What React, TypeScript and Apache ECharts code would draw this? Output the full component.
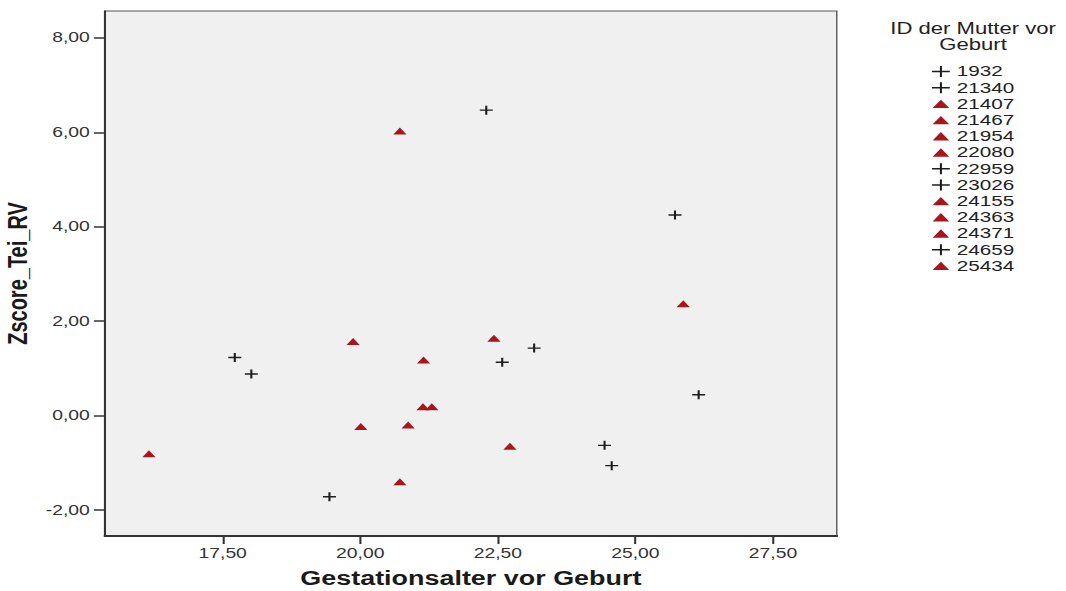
import React, { useEffect, useRef } from "react";
import * as echarts from "echarts";

// Mother IDs and the marker used for each in the legend/plot
const motherIds = ["1932", "21340", "21407", "21467", "21954", "22080", "22959", "23026", "24155", "24363", "24371", "24659", "25434"];
const markerKinds = ["cross", "cross", "triangle", "triangle", "triangle", "triangle", "cross", "cross", "triangle", "triangle", "triangle", "cross", "triangle"];

// One entry per measurement
const pointIds = [
  "1932", "1932", "21340", "21340", "22959", "22959", "23026", "23026", "24659", "24659",
  "21407", "21407", "21467", "21467", "21954", "21954", "22080", "22080", "24155", "24363", "24371", "25434",
];
const gestAge = [
  17.72, 18.02, 22.29, 25.72, 22.58, 23.16, 24.44, 24.57, 19.44, 26.15,
  16.16, 20.01, 19.87, 21.15, 20.72, 22.43, 21.14, 21.3, 20.87, 22.72, 20.72, 25.87,
];
const zscoreTei = [
  1.23, 0.88, 6.47, 4.25, 1.13, 1.43, -0.63, -1.06, -1.72, 0.44,
  -0.81, -0.23, 1.57, 1.18, 6.03, 1.64, 0.19, 0.19, -0.2, -0.65, -1.4, 2.37,
];

const xTicks = [17.5, 20, 22.5, 25, 27.5];
const yTicks = [-2, 0, 2, 4, 6, 8];

const FONT = '"Liberation Sans", Arial, sans-serif';
const CROSS_COLOR = "#1c1c1c";
const TRI_COLOR = "#a8161c";
const CROSS_PATH = "path://M0,4.2H10V5.8H0Z M4.2,0H5.8V10H4.2Z";
const CROSS_LEGEND = "path://M0,5.2H14V6.8H0Z M6.2,0H7.8V12H6.2Z";
const TRI_LEGEND = "path://M0.75,9.25L6.5,1.25L12.25,9.25Z M0.5,0Z M12.5,10.5Z";

// the drawing is stretched horizontally
const STRETCH = 1066 / 772;

const fmt = (v: number) => v.toFixed(2).replace(".", ",");

export default function App() {
  const ref = useRef<HTMLDivElement>(null);

  useEffect(() => {
    if (!ref.current) return;
    const chart = echarts.init(ref.current, undefined, { renderer: "svg" });

    const series = motherIds.map((id, k) => {
      const isCross = markerKinds[k] === "cross";
      const data: number[][] = [];
      pointIds.forEach((p, i) => {
        if (p === id) data.push([gestAge[i], zscoreTei[i]]);
      });
      return {
        name: id,
        type: "scatter",
        data,
        symbol: isCross ? CROSS_PATH : "triangle",
        symbolSize: isCross ? [9.4, 9] : [9.6, 7],
        symbolKeepAspect: false,
        itemStyle: { color: isCross ? CROSS_COLOR : TRI_COLOR, opacity: 1 },
        emphasis: { disabled: true },
      };
    });

    chart.setOption({
      animation: false,
      backgroundColor: "#ffffff",
      grid: {
        left: 76,
        top: 11,
        width: 530,
        height: 525,
        containLabel: false,
        outerBoundsMode: "none",
        show: true,
        backgroundColor: "#f0f0f0",
        borderColor: "#555",
        borderWidth: 1,
      },
      xAxis: {
        type: "value",
        min: 15.36,
        max: 28.66,
        name: "Gestationsalter vor Geburt",
        nameLocation: "middle",
        nameGap: 34,
        nameTextStyle: { fontFamily: FONT, fontSize: 19.5, lineHeight: 16, fontWeight: "bold", color: "#1a1a1a" },
        splitLine: { show: false },
        axisLine: { onZero: false, lineStyle: { color: "#333", width: 2 } },
        axisTick: { customValues: xTicks, length: 8, lineStyle: { color: "#333", width: 1.5 } },
        axisLabel: {
          customValues: xTicks,
          formatter: fmt,
          margin: 10,
          fontFamily: FONT,
          fontSize: 14,
          color: "#333",
        },
      },
      yAxis: {
        type: "value",
        min: -2.55,
        max: 8.57,
        name: "Zscore_Tei_RV",
        nameLocation: "middle",
        nameGap: 47,
        nameTextStyle: { fontFamily: FONT, fontSize: 20, fontWeight: "bold", color: "#1a1a1a" },
        splitLine: { show: false },
        axisLine: { onZero: false, lineStyle: { color: "#333", width: 1.5 } },
        axisTick: { customValues: yTicks, length: 8, lineStyle: { color: "#333", width: 1.5 } },
        axisLabel: {
          customValues: yTicks,
          formatter: fmt,
          margin: 11,
          fontFamily: FONT,
          fontSize: 14,
          color: "#333",
        },
      },
      legend: {
        orient: "vertical",
        left: 670,
        top: 59,
        itemWidth: 13,
        itemHeight: 11,
        itemGap: 1.2,
        selectedMode: false,
        textStyle: { fontFamily: FONT, fontSize: 15, color: "#222", lineHeight: 14 },
        data: motherIds.map((id, k) => ({
          name: id,
          icon: markerKinds[k] === "cross" ? CROSS_LEGEND : TRI_LEGEND,
        })),
      },
      graphic: [
        {
          type: "text",
          x: 704.7,
          y: 21,
          style: {
            text: "ID der Mutter vor\nGeburt",
            align: "center",
            verticalAlign: "top",
            fontFamily: FONT,
            fontSize: 16,
            lineHeight: 16,
            fill: "#222",
          },
        },
      ],
      series,
    });

    return () => chart.dispose();
  }, []);

  return (
    <div
      ref={ref}
      style={{
        position: "absolute",
        left: 0,
        top: 0,
        width: 772,
        height: 591,
        transform: `scaleX(${STRETCH})`,
        transformOrigin: "0 0",
      }}
    />
  );
}
